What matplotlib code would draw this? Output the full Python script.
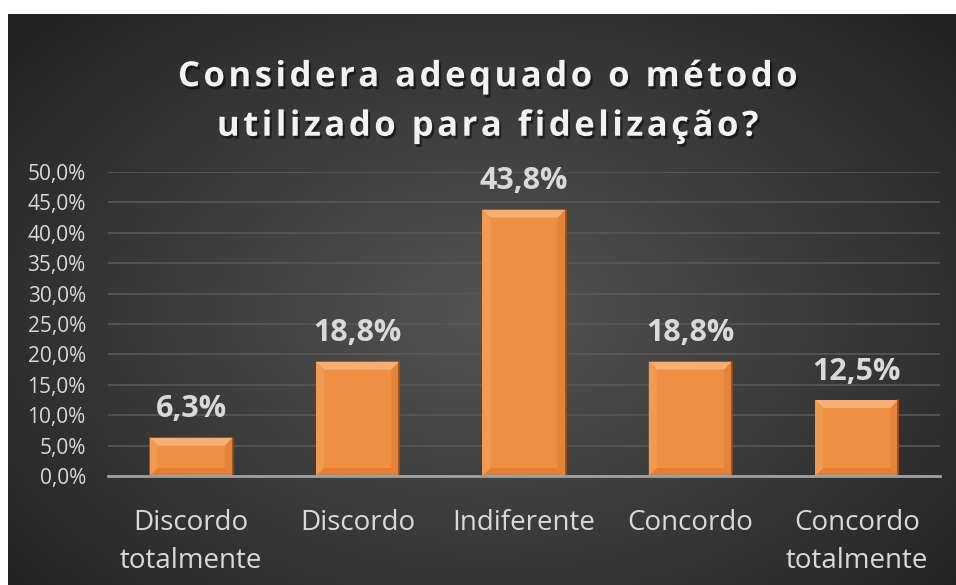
import matplotlib.pyplot as plt
import numpy as np
from matplotlib import patheffects as pe
from matplotlib.patches import Polygon

# data
categories = ["Discordo\ntotalmente", "Discordo", "Indiferente", "Concordo", "Concordo\ntotalmente"]
values = [6.3, 18.8, 43.8, 18.8, 12.5]
labels = ["6,3%", "18,8%", "43,8%", "18,8%", "12,5%"]
yticks = [0, 5, 10, 15, 20, 25, 30, 35, 40, 45, 50]
title_lines = ["Considera adequado o método", "utilizado para fidelização?"]

W, H = 956, 585
fig = plt.figure(figsize=(W / 100, H / 100), dpi=100)
fig.patch.set_facecolor("white")

# dark panel with radial gradient
bg = fig.add_axes([8 / W, 0, 1 - 8 / W, 1 - 14 / H])
bg.set_axis_off()
yy, xx = np.mgrid[0:571, 0:948]
d = np.sqrt(((xx - 480) / 620) ** 2 + ((yy - 300) / 420) ** 2)
shade = np.clip(0.33 - 0.19 * d, 0.14, 0.35)
bg.imshow(np.dstack([shade] * 3), aspect="auto", interpolation="bilinear")

ax = fig.add_axes([108 / W, 1 - 476 / H, (940 - 108) / W, (476 - 172) / H])
ax.set_facecolor("none")
x = np.arange(len(categories))
bw = 0.5
bars = ax.bar(x, values, width=bw, color="#EE8E44", zorder=3)
ax.set_xlim(-0.5, len(categories) - 0.5)
ax.set_ylim(0, 50)

# bevel effect, sizes derived from the axes scale
px_x = 1.0 / ((940 - 108) / len(categories))
px_y = 50.0 / (476 - 172)
bv = 8
for b in bars:
    x0, x1 = b.get_x(), b.get_x() + b.get_width()
    h = b.get_height()
    dx, dy = bv * px_x, bv * px_y
    ax.add_patch(Polygon([(x0 + dx, dy), (x1 - dx, dy), (x1 - dx, h - dy), (x0 + dx, h - dy)],
                         color="#EE9044", zorder=4, lw=0))
    ax.add_patch(Polygon([(x0, h), (x1, h), (x1 - dx, h - dy), (x0 + dx, h - dy)],
                         color="#F5AE74", zorder=4, lw=0))
    ax.add_patch(Polygon([(x0, 0), (x1, 0), (x1 - dx, dy), (x0 + dx, dy)],
                         color="#E27F34", zorder=4, lw=0))
    ax.add_patch(Polygon([(x0, 0), (x0, h), (x0 + dx, h - dy), (x0 + dx, dy)],
                         color="#F09A52", zorder=4, lw=0))
    ax.add_patch(Polygon([(x1, 0), (x1, h), (x1 - dx, h - dy), (x1 - dx, dy)],
                         color="#E5833A", zorder=4, lw=0))
    ax.plot([x1, x1], [0, h], color="#9A4A14", lw=1.2, zorder=5)

for xi, v, lab in zip(x, values, labels):
    ax.text(xi, v + 2.2, lab, ha="center", va="bottom", fontsize=22, fontweight="bold",
            color="#D9D9D9", family="Open Sans")

ax.set_yticks(yticks)
ax.set_yticklabels([f"{t:.1f}%".replace(".", ",") for t in yticks], fontsize=15,
                   color="#D9D9D9", family="Open Sans")
ax.set_xticks(x)
ax.set_xticklabels(categories, fontsize=20, color="#D9D9D9", family="Open Sans", linespacing=1.45)
ax.tick_params(length=0)
ax.tick_params(axis="x", pad=24)
ax.tick_params(axis="y", pad=16)
ax.grid(axis="y", color="#585858", lw=1.2, zorder=0)
for s in ["top", "right", "left"]:
    ax.spines[s].set_visible(False)
ax.spines["bottom"].set_color("#A0A0A0")
ax.spines["bottom"].set_linewidth(2)
ax.spines["bottom"].set_zorder(6)

# title with letter spacing (hair spaces between characters)
spaced = "\n".join("\u200a".join(line) for line in title_lines)
fig.text(488 / W, 1 - 102 / H, spaced, ha="center", va="center", fontsize=25, fontweight="bold",
         color="#F2F2F2", family=["Open Sans", "DejaVu Sans"], linespacing=1.5,
         path_effects=[pe.withSimplePatchShadow(offset=(1.5, -2), shadow_rgbFace="black", alpha=0.5)])

fig.savefig("out.png", dpi=100, facecolor="white")
